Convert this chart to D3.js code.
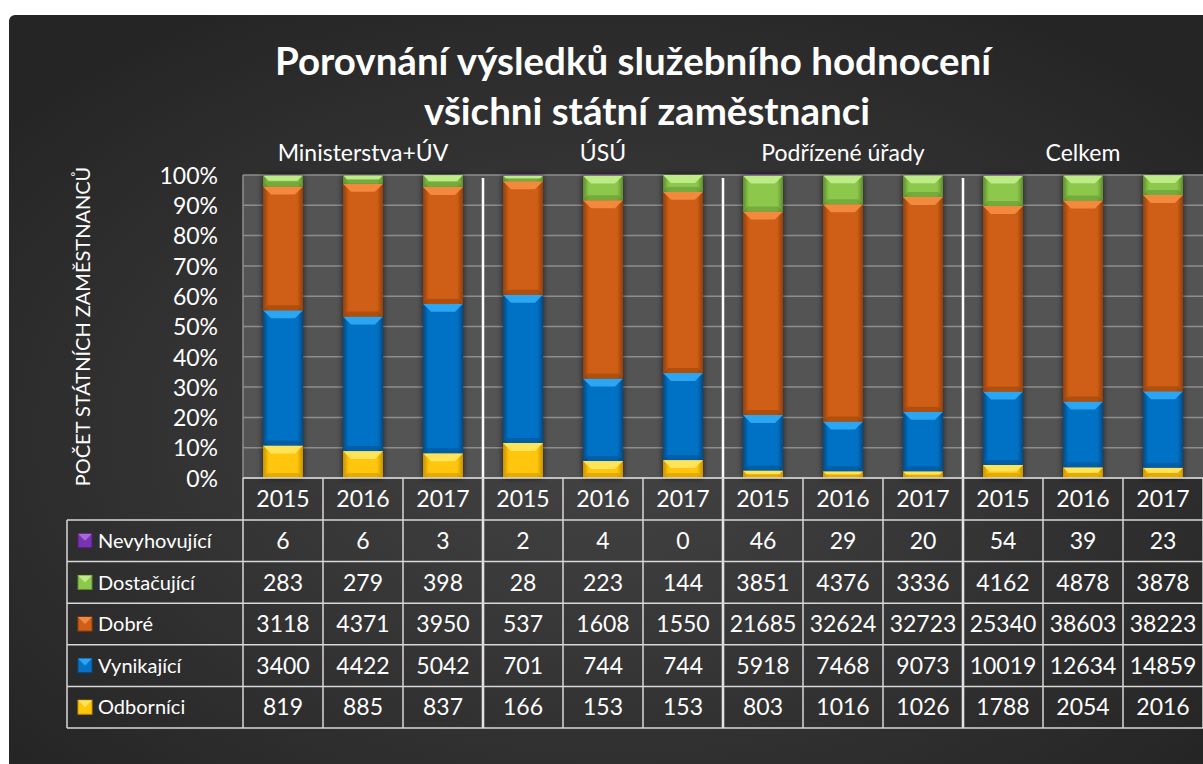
<!DOCTYPE html>
<html>
<head>
<meta charset="utf-8">
<script src="https://cdn.jsdelivr.net/npm/d3@7"></script>
<style>
  body { margin: 0; background: #fff; }
  text { font-family: Lato, "Open Sans", sans-serif; fill: #fff; }
</style>
</head>
<body>
<div id="chart"></div>
<script>
var groups = ['Ministerstva+ÚV', 'ÚSÚ', 'Podřízené úřady', 'Celkem'];
var years = ['2015', '2016', '2017'];
// stack order bottom -> top
var seriesNames = ['Odborníci', 'Vynikající', 'Dobré', 'Dostačující', 'Nevyhovující'];
var odbornici    = [819, 885, 837, 166, 153, 153, 803, 1016, 1026, 1788, 2054, 2016];
var vynikajici   = [3400, 4422, 5042, 701, 744, 744, 5918, 7468, 9073, 10019, 12634, 14859];
var dobre        = [3118, 4371, 3950, 537, 1608, 1550, 21685, 32624, 32723, 25340, 38603, 38223];
var dostacujici  = [283, 279, 398, 28, 223, 144, 3851, 4376, 3336, 4162, 4878, 3878];
var nevyhovujici = [6, 6, 3, 2, 4, 0, 46, 29, 20, 54, 39, 23];
var yTicks = [0, 0.1, 0.2, 0.3, 0.4, 0.5, 0.6, 0.7, 0.8, 0.9, 1];

var seriesValues = [odbornici, vynikajici, dobre, dostacujici, nevyhovujici];
var colors = {
  'Odborníci':    {base: '#FFC60A', light: '#FFE45A', dark: '#C99200'},
  'Vynikající':   {base: '#0672C6', light: '#2AA6F2', dark: '#034C8A'},
  'Dobré':        {base: '#CF5E16', light: '#F2893E', dark: '#93400C'},
  'Dostačující':  {base: '#8DC84E', light: '#BDEB86', dark: '#5E8E2C'},
  'Nevyhovující': {base: '#7A33B0', light: '#A868DA', dark: '#4E1C78'}
};

// rows for the stack: one per column (group x year)
var rows = [];
groups.forEach(function(g, gi) {
  years.forEach(function(y, yi) {
    var i = gi * 3 + yi;
    var r = {key: g + '|' + y, idx: i};
    seriesNames.forEach(function(s, si) { r[s] = seriesValues[si][i]; });
    rows.push(r);
  });
});

var W = 1203, H = 764;
var plot = {left: 243, right: 1203, top: 175, bottom: 478};
var tableTop = 478, headerH = 42, rowH = 41.6, legendLeft = 67;

var svg = d3.select('#chart').append('svg')
  .attr('width', W).attr('height', H);

var defs = svg.append('defs');
var bg = defs.append('radialGradient').attr('id', 'bg')
  .attr('cx', '50%').attr('cy', '55%').attr('r', '65%');
bg.append('stop').attr('offset', '0%').attr('stop-color', '#444');
bg.append('stop').attr('offset', '100%').attr('stop-color', '#252525');

var shadow = defs.append('filter').attr('id', 'shadow')
  .attr('x', '-30%').attr('y', '-10%').attr('width', '160%').attr('height', '120%');
shadow.append('feDropShadow').attr('dx', 0).attr('dy', 0)
  .attr('stdDeviation', 3).attr('flood-color', '#000').attr('flood-opacity', 0.65);

seriesNames.forEach(function(s, si) {
  var c = colors[s];
  var lg = defs.append('linearGradient').attr('id', 'g' + si)
    .attr('x1', 0).attr('x2', 1).attr('y1', 0).attr('y2', 0);
  lg.append('stop').attr('offset', '0%').attr('stop-color', c.dark);
  lg.append('stop').attr('offset', '15%').attr('stop-color', c.base);
  lg.append('stop').attr('offset', '85%').attr('stop-color', c.base);
  lg.append('stop').attr('offset', '100%').attr('stop-color', c.dark);
});

svg.append('rect')
  .attr('x', 9).attr('y', 15).attr('width', W).attr('height', H)
  .attr('rx', 6).attr('fill', 'url(#bg)');

// scales
var xGroup = d3.scaleBand().domain(groups).range([plot.left, plot.right]);
var xCol = d3.scaleBand().domain(d3.range(rows.length)).range([plot.left, plot.right])
  .paddingInner(0.5).paddingOuter(0.25);
var yScale = d3.scaleLinear().domain([0, 1]).range([plot.bottom, plot.top]);

// plot area
svg.append('rect')
  .attr('x', plot.left).attr('y', plot.top)
  .attr('width', plot.right - plot.left).attr('height', plot.bottom - plot.top)
  .attr('fill', '#545454');

svg.append('g').selectAll('line').data(yTicks).enter().append('line')
  .attr('x1', plot.left).attr('x2', plot.right)
  .attr('y1', function(d) { return yScale(d); })
  .attr('y2', function(d) { return yScale(d); })
  .attr('stroke', '#8e8e8e').attr('stroke-width', 1.5);

svg.append('line')
  .attr('x1', plot.left).attr('x2', plot.left)
  .attr('y1', plot.top).attr('y2', plot.bottom)
  .attr('stroke', '#8e8e8e').attr('stroke-width', 1.5);

// y axis labels
var yAxis = svg.append('g')
  .attr('transform', 'translate(218,0)')
  .call(d3.axisLeft(yScale).tickValues(yTicks).tickSize(0).tickPadding(0)
    .tickFormat(d3.format('.0%')));
yAxis.select('.domain').remove();
yAxis.selectAll('text')
  .style('font-family', 'Lato, sans-serif').style('font-size', '23px')
  .attr('fill', '#fff').attr('dy', '0.36em');

svg.append('text')
  .attr('transform', 'translate(90,' + ((plot.top + plot.bottom) / 2) + ') rotate(-90)')
  .attr('text-anchor', 'middle')
  .style('font-size', '20px')
  .text('POČET STÁTNÍCH ZAMĚSTNANCŮ');

// bars
var stack = d3.stack().keys(seriesNames).offset(d3.stackOffsetExpand);
var stacked = stack(rows);

var segs = [];
stacked.forEach(function(layer, si) {
  layer.forEach(function(d, i) {
    var x = xCol(i), w = xCol.bandwidth();
    var yTop = yScale(d[1]), yBot = yScale(d[0]);
    segs.push({si: si, name: seriesNames[si], col: i, x: x, w: w, y: yTop, h: yBot - yTop});
  });
});

var bars = svg.append('g');
var colG = bars.selectAll('g.col').data(d3.range(rows.length)).enter().append('g')
  .attr('class', 'col').attr('filter', 'url(#shadow)');

colG.each(function(ci) {
  var g = d3.select(this);
  var mine = segs.filter(function(s) { return s.col === ci && s.h > 0.05; });
  var sg = g.selectAll('g.seg').data(mine).enter().append('g').attr('class', 'seg');
  sg.append('rect')
    .attr('x', function(d) { return d.x; })
    .attr('y', function(d) { return d.y; })
    .attr('width', function(d) { return d.w; })
    .attr('height', function(d) { return d.h; })
    .attr('fill', function(d) { return 'url(#g' + d.si + ')'; });
  // top bevel
  sg.append('polygon')
    .attr('points', function(d) {
      var b = Math.min(8, d.h / 2);
      return [[d.x, d.y], [d.x + d.w, d.y], [d.x + d.w - b, d.y + b], [d.x + b, d.y + b]].join(' ');
    })
    .attr('fill', function(d) { return colors[d.name].light; });
  // bottom bevel
  sg.append('polygon')
    .attr('points', function(d) {
      var b = Math.min(5, d.h / 2), yb = d.y + d.h;
      return [[d.x, yb], [d.x + d.w, yb], [d.x + d.w - b, yb - b], [d.x + b, yb - b]].join(' ');
    })
    .attr('fill', function(d) { return colors[d.name].dark; })
    .attr('opacity', 0.5);
});

// group separators
svg.append('g').selectAll('line').data(groups.slice(1)).enter().append('line')
  .attr('x1', function(d) { return xGroup(d); })
  .attr('x2', function(d) { return xGroup(d); })
  .attr('y1', plot.top + 3).attr('y2', tableTop + headerH + rowH * 5)
  .attr('stroke', '#fff').attr('stroke-width', 2.5);

// group labels
svg.append('g').selectAll('text').data(groups).enter().append('text')
  .attr('x', function(d) { return xGroup(d) + xGroup.bandwidth() / 2; })
  .attr('y', 161)
  .attr('text-anchor', 'middle')
  .style('font-size', '23px')
  .text(function(d) { return d; });

// title
svg.append('text').attr('x', 633).attr('y', 75).attr('text-anchor', 'middle')
  .style('font-size', '38.5px').style('font-weight', 'bold')
  .text('Porovnání výsledků služebního hodnocení');
svg.append('text').attr('x', 647).attr('y', 125).attr('text-anchor', 'middle')
  .style('font-size', '38.5px').style('font-weight', 'bold')
  .text('všichni státní zaměstnanci');

// data table
var table = svg.append('g');
var lineColor = '#d8d8d8';
var colEdges = d3.range(rows.length + 1).map(function(i) { return plot.left + i * xCol.step(); });
var tableBottom = tableTop + headerH + rowH * 5;

table.append('line').attr('x1', plot.left).attr('x2', plot.right)
  .attr('y1', tableTop).attr('y2', tableTop)
  .attr('stroke', lineColor).attr('stroke-width', 1.5);
table.selectAll('line.v').data(colEdges).enter().append('line').attr('class', 'v')
  .attr('x1', function(d) { return d; }).attr('x2', function(d) { return d; })
  .attr('y1', tableTop).attr('y2', tableBottom)
  .attr('stroke', lineColor).attr('stroke-width', 1.5);
table.append('line').attr('x1', legendLeft).attr('x2', legendLeft)
  .attr('y1', tableTop + headerH).attr('y2', tableBottom)
  .attr('stroke', lineColor).attr('stroke-width', 1.5);
table.selectAll('line.h').data(d3.range(6)).enter().append('line').attr('class', 'h')
  .attr('x1', legendLeft).attr('x2', plot.right)
  .attr('y1', function(d) { return tableTop + headerH + d * rowH; })
  .attr('y2', function(d) { return tableTop + headerH + d * rowH; })
  .attr('stroke', lineColor).attr('stroke-width', 1.5);

table.selectAll('text.yr').data(rows).enter().append('text').attr('class', 'yr')
  .attr('x', function(d, i) { return xCol(i) + xCol.bandwidth() / 2; })
  .attr('y', tableTop + headerH / 2)
  .attr('dy', '0.36em').attr('text-anchor', 'middle')
  .style('font-size', '23px')
  .text(function(d, i) { return years[i % 3]; });

var tableOrder = seriesNames.slice().reverse();
tableOrder.forEach(function(s, ri) {
  var si = seriesNames.indexOf(s);
  var cy = tableTop + headerH + ri * rowH + rowH / 2;
  var c = colors[s];
  table.append('rect').attr('x', 78).attr('y', cy - 7).attr('width', 14).attr('height', 14)
    .attr('fill', c.base).attr('stroke', c.dark).attr('stroke-width', 1);
  table.append('polygon')
    .attr('points', [[78, cy - 7], [92, cy - 7], [85, cy]].join(' '))
    .attr('fill', c.light);
  table.append('text').attr('x', 98).attr('y', cy).attr('dy', '0.36em')
    .style('font-size', '20px').text(s);
  table.selectAll('text.v' + ri).data(seriesValues[si]).enter().append('text')
    .attr('x', function(d, i) { return xCol(i) + xCol.bandwidth() / 2; })
    .attr('y', cy).attr('dy', '0.36em').attr('text-anchor', 'middle')
    .style('font-size', '23px')
    .text(function(d) { return d; });
});
</script>
</body>
</html>
